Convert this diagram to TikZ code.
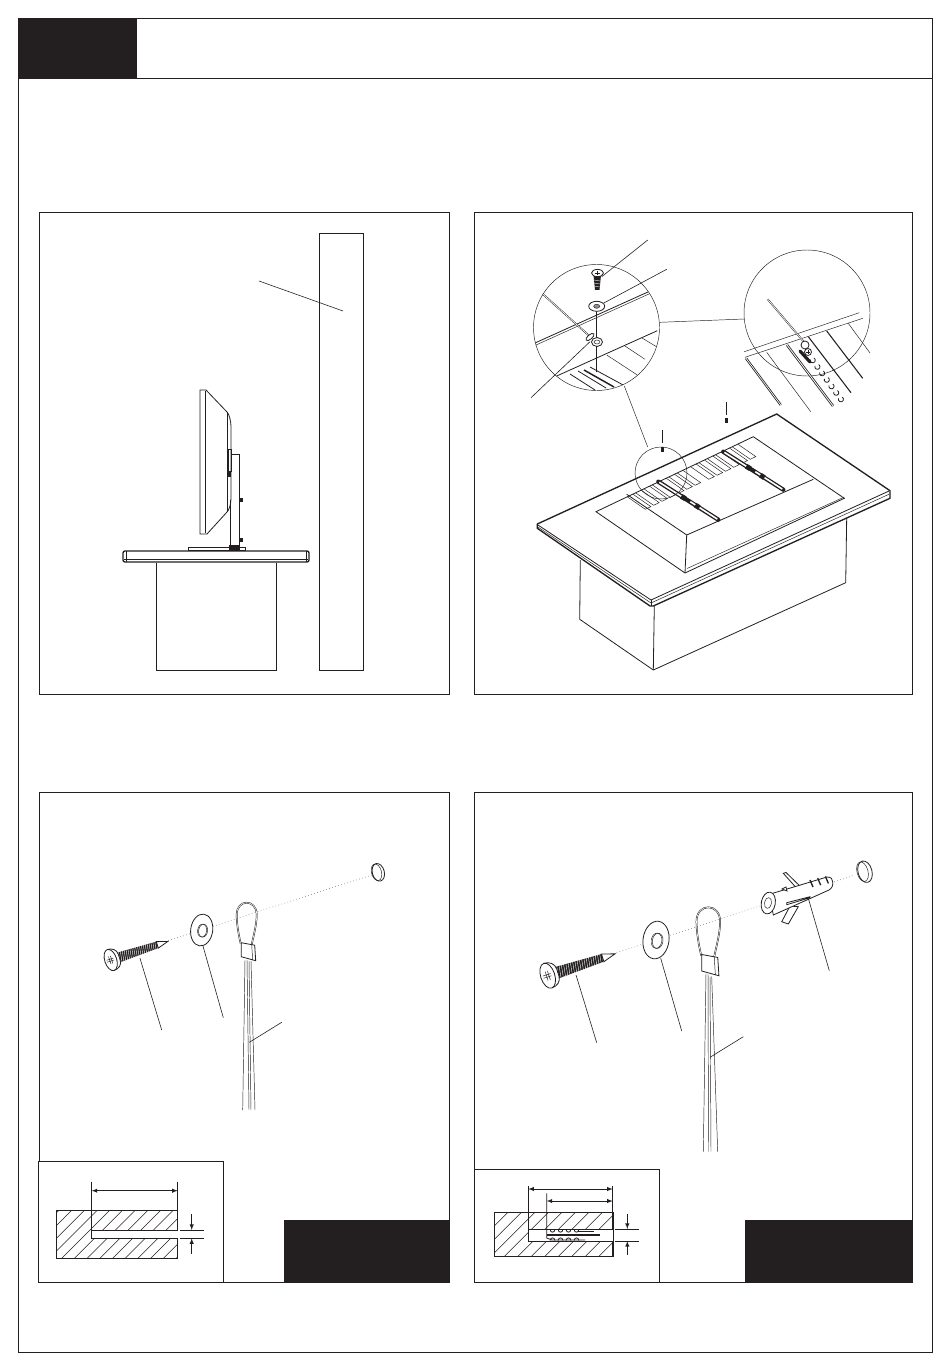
\documentclass[tikz,border=0pt]{standalone}
\usetikzlibrary{arrows}
\definecolor{inkblack}{HTML}{231F20}
\tikzset{
  pics/screwpart/.style={code={
    \fill[inkblack] (5,-5.2) -- (49,-3.4) -- (49,3.4) -- (5,5.2) -- cycle;
    \foreach \tx in {7,9,...,49}
      \draw[white,line width=0.3pt] (\tx-0.8,5.2) -- (\tx+0.8,-5.2);
    \draw[part,fill=white] (49,-3.4) -- (60,0) -- (49,3.4) -- cycle;
    \draw[part,fill=white] (0,-11) .. controls (5,-11) and (9,-8) .. (9,-3) -- (9,3) .. controls (9,8) and (5,11) .. (0,11);
    \draw[part,fill=white] (0,0) ellipse [x radius=6, y radius=11];
    \draw[thinpart] (-4,-1) -- (3,-1) (-4,1) -- (3,1) (-1,-4) -- (-1,4) (1,-4) -- (1,4);
  }},
  pics/washerpart/.style={code={
    \draw[part,fill=white] (0,0) ellipse [x radius=11, y radius=16];
    \draw[thinpart] (1.5,0.5) ellipse [x radius=4.5, y radius=6.5];
    \draw[thinpart] (0.5,0.5) ellipse [x radius=4.5, y radius=6.5];
  }},
  pics/looppart/.style={code={
    \def\looppath{(-6,41) .. controls (-8,32) and (-10,22) .. (-10,12) .. controls (-10,4) and (-5,0) .. (0,0) .. controls (5,0) and (10,4) .. (10,12) .. controls (10,22) and (7,32) .. (5,42)}
    \draw[part,line width=1.2pt] \looppath;
    \draw[white,line width=0.45pt] \looppath;
    \draw[part,fill=white] (-5.5,40) -- (8,42.5) -- (9,58) -- (-5.5,54) -- cycle;
    \draw[thinpart] (5,42) -- (6,57.5);
  }},
  pics/railpart/.style={code={
    \draw[inkblack,line width=3.2pt,line cap=round] (0,0) -- (60,38);
    \draw[white,line width=1.2pt] (1,0.6) -- (26,16.5) (32,20) -- (59,37.4);
    \draw[inkblack,line width=3.8pt] (23,14.6) -- (27,17) (37,23.4) -- (41,26);
  }}
}
\begin{document}
\begin{tikzpicture}[x=0.75pt,y=-0.75pt,
    panel/.style={draw=inkblack,line width=0.7pt},
    part/.style={draw=inkblack,line width=0.6pt},
    thinpart/.style={draw=inkblack,line width=0.35pt},
    leader/.style={draw=inkblack,line width=0.45pt},
    heavy/.style={draw=inkblack,line width=1pt},
    sight/.style={draw=inkblack,line width=0.35pt,dotted},
    dimen/.style={draw=inkblack,line width=0.45pt,latex-,>=latex},
    hatch/.style={draw=inkblack,line width=0.4pt}]

  \useasboundingbox (0,0) rectangle (950,1369);

  % page frame
  \draw[panel] (18,18) rectangle (932,1352);
  \draw[panel] (18,78) -- (932,78);
  \fill[inkblack] (18,18) rectangle (137,78);

  \draw[panel] (39,212) rectangle (449,694);
  \draw[panel] (474,212) rectangle (912,694);
  \draw[panel] (39,792) rectangle (449,1282);
  \draw[panel] (474,792) rectangle (912,1282);
  \fill[inkblack] (284,1220) rectangle (449,1282);
  \fill[inkblack] (745,1220) rectangle (912,1282);

  % side view
  \draw[part] (319,233) rectangle (363,670);
  \draw[leader] (259,281) -- (343,311);
  \draw[part] (156,563) -- (156,670) -- (276,670) -- (276,563);
  \draw[heavy,rounded corners=1.5pt] (123,551) rectangle (309,562);
  \draw[thinpart] (124,559) -- (308,559) (126,551) -- (126,562) (306,551) -- (306,562);
  \draw[part] (200,390) -- (206,390) -- (227,412)
    .. controls (229,414) and (231,420) .. (231,428) -- (231,498)
    .. controls (231,505) and (229,510) .. (227,512) -- (207,534) -- (200,534) -- cycle;
  \draw[thinpart] (205,391) -- (205,533);
  \draw[part] (227,412) -- (227,512);
  \draw[part] (231,454) -- (239,454) -- (239,546);
  \draw[part] (230,500) -- (230,546);
  \draw[part] (228,449) rectangle (231,471);
  \fill[inkblack] (228,472) rectangle (231,477);
  \fill[inkblack] (239,498) rectangle (243,502);
  \fill[inkblack] (239,538) rectangle (243,542);
  \draw[part] (188,547) rectangle (245,550);
  \fill[inkblack] (229,545) rectangle (240,550);

  % table, top view
  \draw[part] (580.3,560) -- (579.7,619.3) -- (653.3,670) -- (845.7,582.7) -- (846.7,517);
  \draw[part] (654.3,606) -- (653.3,670);
  \draw[heavy,line join=round,fill=white] (537.3,524) -- (776.7,414) -- (890,490.7) -- (890,498.3) -- (653.3,606) -- (650,606) -- (537.3,528.3) -- cycle;
  \draw[part] (538,525) -- (651,600) -- (889,491);
  \draw[thinpart] (538,527) -- (651,603) -- (889.5,494);
  \draw[thinpart] (651,600) -- (651,606);
  % tv on the table
  \draw[part] (596,511.7) -- (753.3,436.7) -- (844.3,498.3) -- (685,573) -- cycle;
  \draw[thinpart] (687,568.5) -- (844.3,497);
  \draw[part] (626.7,494.3) -- (686.7,535) -- (813.3,479.3);
  \draw[part] (686.7,535) -- (685,573);
  \foreach \ox/\oy/\num in {0/0/7,63.5/-30/6}
    \foreach \i in {1,...,\num}
      \draw[thinpart] ({627.3+\ox+8.3*(\i-1)},{496.8+\oy-4*(\i-1)}) -- ++(18,12.5) -- ++(5.5,-2.7) -- ++(-18,-12.5);
  \pic at (658.3,481.7) {railpart};
  \pic at (723.3,451.7) {railpart};

  % small screws over the table
  \draw[thinpart] (662.7,430) -- (662.7,442.7);
  \fill[inkblack] (661.2,447) rectangle (664.2,452);
  \draw[thinpart] (726.3,401.7) -- (726.3,415);
  \fill[inkblack] (724.8,418) rectangle (727.8,423);

  % detail circles
  \draw[thinpart] (661,473) circle (26);
  \draw[thinpart] (624.3,386) -- (647.7,447);
  \draw[thinpart] (660,322.3) -- (744.3,319);
  \draw[thinpart] (596.5,327.5) circle (63);
  \draw[thinpart] (807,313) circle (63);

  % first detail
  \begin{scope}
    \clip (596.5,327.5) circle (63);
    \draw[part] (535,343) -- (649,291.5);
    \draw[thinpart] (535,345.5) -- (650,293.5);
    \draw[part] (556.7,376) -- (657.3,330.7);
    \draw[thinpart] (625,346) -- (645,359.3) (606.7,355) -- (637.3,375) (642,338) -- (657,347);
    \draw[part] (570,374) -- (595,390) (578,371) -- (606,388);
    \draw[inkblack,line width=1.1pt] (584,370) -- (614,387);
    \draw[part] (590,367) -- (625,386);
  \end{scope}
  \draw[draw=inkblack,line width=0.3pt] (596,310) -- (596,372);
  \draw[thinpart,double=white,double distance=0.5pt] (542.7,294) -- (588.3,335);
  \draw[part,fill=white,rotate around={40:(590,337)}] (590,337) ellipse [x radius=5, y radius=2.2];
  \draw[part,fill=white] (597,342) ellipse [x radius=5.5, y radius=4.5];
  \draw[thinpart] (597,342) ellipse [x radius=3, y radius=2];
  \draw[leader] (531,397.7) -- (590,341.7);
  \fill[inkblack] (593.5,275) -- (601,275) -- (599.5,290) -- (595,290) -- cycle;
  \draw[white,line width=0.3pt] (594,280) -- (600,281) (594,283) -- (600,284) (594,286) -- (600,287);
  \draw[part,fill=white] (597.5,273) ellipse [x radius=6, y radius=3.6];
  \draw[thinpart] (595,273) -- (600,273) (597.5,271) -- (597.5,275);
  \draw[leader] (647.7,240) -- (601.7,276.7);
  \draw[leader] (666.7,269.3) -- (603.3,303.3);
  \draw[part,fill=white] (596.7,306.3) ellipse [x radius=8, y radius=5];
  \draw[thinpart,fill=inkblack!50] (596.7,306.3) ellipse [x radius=3, y radius=2];

  % second detail
  \draw[thinpart] (744.3,351.7) -- (859.3,312.7);
  \draw[thinpart] (745,357.3) -- (862.7,318.3);
  \draw[part,double=white,double distance=0.5pt] (746,358.3) -- (780.7,405);
  \draw[thinpart] (766.7,352.3) -- (810.7,411.7);
  \draw[part,double=white,double distance=0.6pt] (787,345) -- (833,406);
  \draw[part,line width=0.8pt] (808.3,336.7) -- (851,392.7);
  \draw[part,line width=0.8pt] (826.7,331) -- (862.7,378.3);
  \draw[thinpart] (848,323) -- (870,353);
  \draw[thinpart,double=white,double distance=0.5pt] (767.7,299.3) -- (804,342);
  \foreach \i in {0,...,6}
    \draw[part] ({814+4.7*\i},{358+6.5*\i}) arc (-60:200:2.6);
  \draw[inkblack,line width=2.4pt,line cap=round] (800,351) -- (810,362);
  \draw[part,fill=white] (805,345) circle (4);
  \draw[part,fill=white] (808,352) circle (3.5);
  \draw[thinpart] (806,352) -- (810,352) (808,350) -- (808,354);

  % wood fixing
  \draw[sight] (168.3,940.7) -- (371.7,875);
  \pic[rotate=18] at (110.7,960) {screwpart};
  \pic[rotate=-8] at (201.7,930) {washerpart};
  \pic at (246.7,902.7) {looppart};
  \draw[thinpart] (245,960) -- (242.7,1110);
  \draw[thinpart] (247,960) -- (249,1110);
  \draw[thinpart] (249,961) -- (251,1110);
  \draw[thinpart] (251,961) -- (255,1110);
  \draw[part] (378.3,872.3) ellipse [x radius=6, y radius=9, rotate=15];
  \draw[thinpart] (376.5,872.3) ellipse [x radius=5, y radius=8.5, rotate=15];
  \draw[leader] (140,958.3) -- (161.7,1030);
  \draw[leader] (202.7,945) -- (223.3,1017.7);
  \draw[leader] (281.7,1022.3) -- (249.3,1042.3);

  % wall fixing
  \draw[sight] (616.7,952.7) -- (855,875);
  \pic[rotate=18,scale=1.18] at (547.7,975.7) {screwpart};
  \pic[rotate=-8,scale=1.18] at (656,940) {washerpart};
  \pic[scale=1.18] at (708.3,907.3) {looppart};
  \draw[thinpart] (706,973.3) -- (703.3,1151.7);
  \draw[thinpart] (708,974) -- (708.5,1151.7);
  \draw[thinpart] (710,976.7) -- (711,1151.7);
  \draw[thinpart] (711.7,976.7) -- (717.7,1151.7);
  \draw[part,fill=white] (783.3,873.3) -- (786,872.5) -- (804,890) -- (800,892) -- cycle;
  \draw[part,fill=white] (781.7,921.7) -- (788.3,924) -- (798.3,906.7) -- (790,906) -- cycle;
  \draw[part,fill=white] (769.3,894.3) -- (827,877) .. controls (831,877) and (833,879) .. (832.7,882) .. controls (833,886) and (832,888) .. (829,890) -- (773.3,915) -- cycle;
  \draw[part,fill=white] (768.3,903) ellipse [x radius=7, y radius=11, rotate=-10];
  \draw[thinpart] (768,903) ellipse [x radius=3.5, y radius=5.5, rotate=-10];
  \draw[part,fill=white] (786.7,902.7) -- (810,896.7) -- (810,897.7) -- (786.7,904.7) -- cycle;
  \foreach \i in {0,1,2}
    \draw[part,line width=1pt] ({810+7.7*\i},{880-1.8*\i}) -- ++(3,7);
  \draw[part,fill=white] (782,889) -- (786,887) -- (787,891) -- cycle;
  \draw[leader] (808.3,898.3) -- (829.3,970.7);
  \draw[part] (865,871.7) ellipse [x radius=7, y radius=11, rotate=15];
  \draw[thinpart] (862.5,871.7) ellipse [x radius=5.5, y radius=10, rotate=15];
  \draw[leader] (576,975) -- (596.7,1042.7);
  \draw[leader] (660.7,958.3) -- (681.7,1031);
  \draw[leader] (743.3,1036.7) -- (710,1057.3);

  % drill detail, left
  \draw[draw=inkblack,fill=white,line width=0.7pt] (38.3,1161) rectangle (223.3,1282.3);
  \draw[inkblack,line width=1pt] (38.6,1161) -- (38.6,1282.3);
  \begin{scope}
    \clip (56.7,1210) rectangle (177.7,1258.3);
    \foreach \hx in {11,23.7,...,190}
      \draw[hatch] (\hx,1258.3) -- ++(48.3,-48.3);
  \end{scope}
  \draw[part] (56.7,1210) rectangle (177.7,1258.3);
  \fill[white] (91.7,1230) rectangle (177.7,1238.3);
  \draw[part] (177.7,1238.3) -- (91.7,1238.3) -- (91.7,1230) -- (177.7,1230);
  \draw[part] (91.7,1181.7) -- (91.7,1230);
  \draw[part] (177.7,1181.7) -- (177.7,1230) (177.7,1238.3) -- (177.7,1258.3);
  \draw[dimen,latex-latex] (91.7,1190.7) -- (177.7,1190.7);
  \draw[leader] (180,1230) -- (204,1230) (180,1238.3) -- (204,1238.3);
  \draw[dimen] (191.7,1230) -- (191.7,1214.3);
  \draw[dimen] (191.7,1238.3) -- (191.7,1254.3);

  % drill detail, right
  \draw[draw=inkblack,fill=white,line width=0.7pt] (474.3,1169.3) rectangle (659.3,1282.7);
  \begin{scope}
    \clip (494.3,1212.7) rectangle (613.3,1256.7);
    \foreach \hx in {450,463.5,...,630}
      \draw[hatch] (\hx,1256.7) -- ++(44,-44);
  \end{scope}
  \draw[part] (494.3,1212.7) rectangle (613.3,1256.7);
  \fill[white] (528.3,1229) rectangle (613.3,1241);
  \draw[part] (612.7,1241) -- (528.3,1241) -- (528.3,1186);
  \draw[part] (528.3,1229) -- (612.7,1229);
  \draw[part] (612.7,1186) -- (612.7,1229) (612.7,1241) -- (612.7,1256.7);
  \draw[part] (546.7,1193.3) -- (546.7,1238) -- (552,1240) -- (585,1240);
  \draw[dimen,latex-latex] (528.3,1189) -- (612.7,1189);
  \draw[dimen,latex-latex] (546.7,1201) -- (612.7,1201);
  \draw[inkblack,line width=1pt] (547,1235) -- (600,1235);
  \foreach \sx in {550,558,...,574} {
    \draw[part] (\sx,1229.5) .. controls (\sx+0.5,1233) and (\sx+4.5,1233) .. (\sx+5,1229.5);
    \draw[part] (\sx,1240.5) .. controls (\sx+0.5,1237) and (\sx+4.5,1237) .. (\sx+5,1240.5);
  }
  \draw[thinpart] (578,1231) -- (594,1231);
  \draw[leader] (615,1229) -- (639,1229) (615,1241) -- (639,1241);
  \draw[dimen] (627.3,1229) -- (627.3,1214);
  \draw[dimen] (627.3,1241) -- (627.3,1255);
\end{tikzpicture}
\end{document}
